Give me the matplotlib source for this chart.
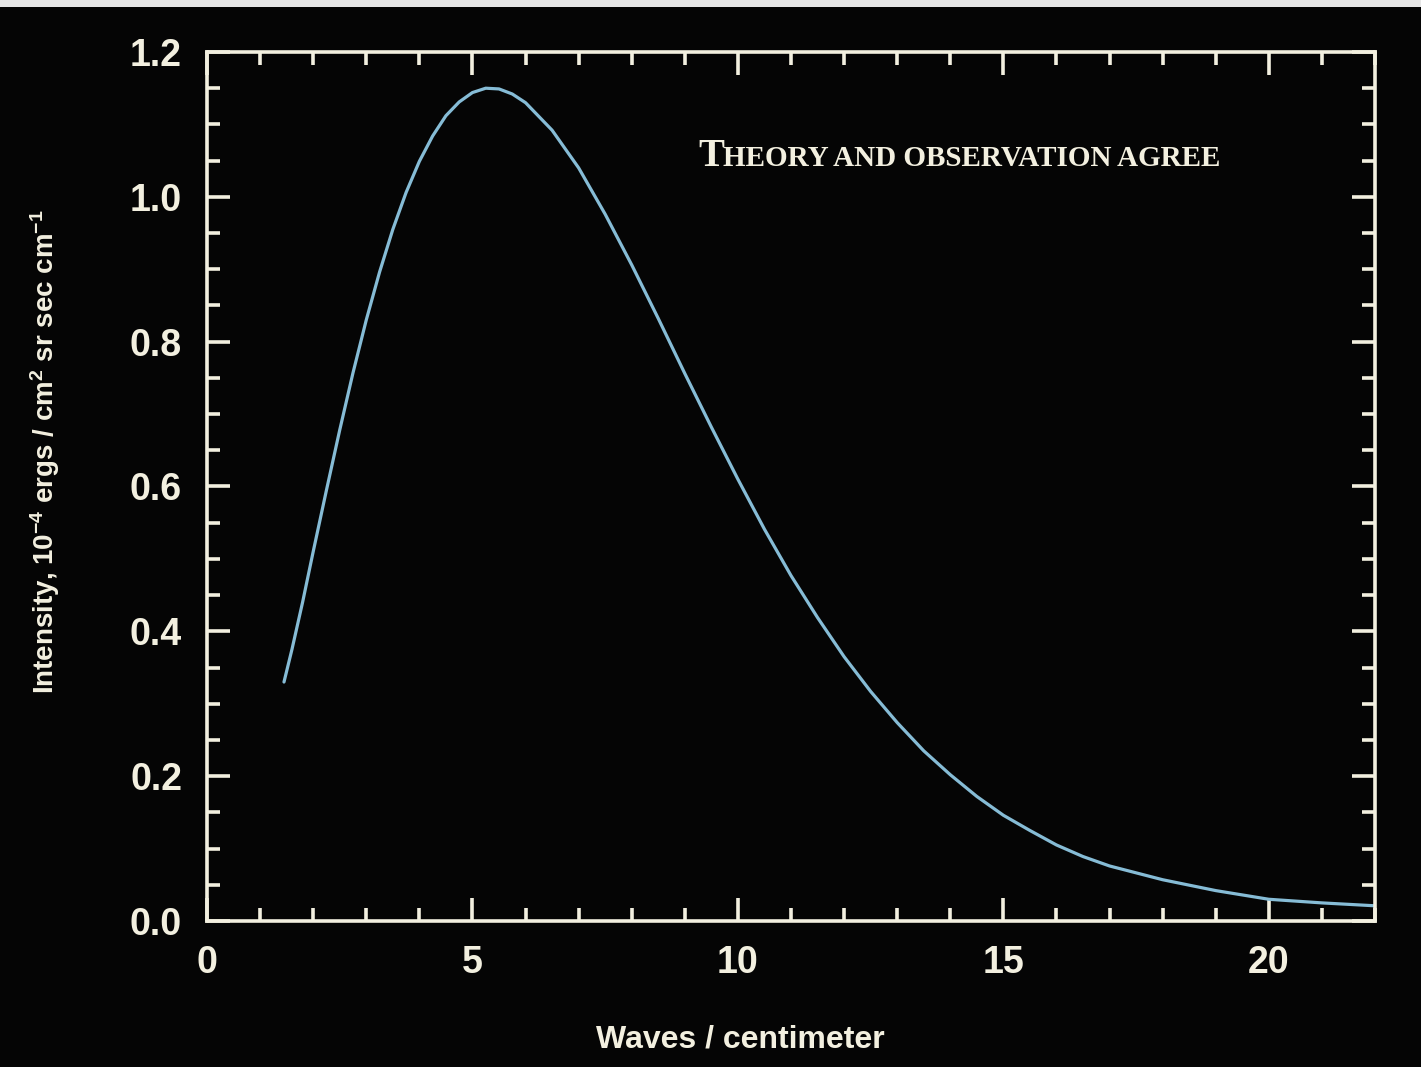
import matplotlib
matplotlib.use("Agg")
import matplotlib.pyplot as plt
from matplotlib.patches import Rectangle
from matplotlib.ticker import MultipleLocator

# ----------------------------
# Data
# ----------------------------
wavenumber = [1.45, 1.6, 1.8, 2.0, 2.25, 2.5, 2.75, 3.0, 3.25, 3.5, 3.75, 4.0,
              4.25, 4.5, 4.75, 5.0, 5.25, 5.5, 5.75, 6.0, 6.5, 7.0, 7.5, 8.0,
              8.5, 9.0, 9.5, 10.0, 10.5, 11.0, 11.5, 12.0, 12.5, 13.0, 13.5,
              14.0, 14.5, 15.0, 15.5, 16.0, 16.5, 17.0, 18.0, 19.0, 20.0,
              21.0, 22.0]
intensity = [0.33, 0.375, 0.44, 0.51, 0.595, 0.678, 0.757, 0.83, 0.896, 0.955,
             1.006, 1.049, 1.084, 1.112, 1.131, 1.144, 1.150, 1.149, 1.142,
             1.130, 1.092, 1.040, 0.976, 0.906, 0.832, 0.756, 0.682, 0.610,
             0.541, 0.477, 0.419, 0.365, 0.317, 0.274, 0.235, 0.202, 0.172,
             0.146, 0.125, 0.105, 0.089, 0.076, 0.057, 0.042, 0.030, 0.025,
             0.021]

# ----------------------------
# Styling
# ----------------------------
BG = "#050505"
FG = "#f3f0e0"
CURVE = "#86bcd6"

plt.rcParams.update(
    {
        "font.family": ["Liberation Sans", "DejaVu Sans"],
        "font.weight": "bold",
        "mathtext.fontset": "custom",
        "mathtext.rm": "Liberation Sans:bold",
        "mathtext.bf": "Liberation Sans:bold",
        "mathtext.it": "Liberation Sans:bold",
    }
)

fig = plt.figure(figsize=(14.21, 10.67), dpi=100, facecolor=BG)
ax = fig.add_axes([207 / 1421, 1 - 921 / 1067, (1375 - 207) / 1421, (921 - 52) / 1067])
ax.set_facecolor(BG)

# thin strip of the page above the picture
fig.patches.append(Rectangle((0, 1 - 7 / 1067), 1, 7 / 1067, transform=fig.transFigure,
                             facecolor="#e6e6e6", edgecolor="none"))

ax.plot(wavenumber, intensity, color=CURVE, linewidth=2.3, solid_capstyle="round",
        solid_joinstyle="round")

ax.set_xlim(0, 22)
ax.set_ylim(0, 1.2)
ax.xaxis.set_major_locator(MultipleLocator(5))
ax.xaxis.set_minor_locator(MultipleLocator(1))
ax.yaxis.set_major_locator(MultipleLocator(0.2))
ax.yaxis.set_minor_locator(MultipleLocator(0.05))
ax.yaxis.set_major_formatter(matplotlib.ticker.FormatStrFormatter("%.1f"))

for s in ax.spines.values():
    s.set_color(FG)
    s.set_linewidth(2.6)

ax.tick_params(which="both", direction="in", top=True, right=True, colors=FG,
               width=2.6, labelsize=27)
ax.tick_params(which="major", length=16.5)
ax.tick_params(which="minor", length=9.5)
ax.tick_params(axis="x", which="major", pad=17)
ax.tick_params(axis="y", which="major", pad=18)

fig.text(740 / 1421, 1 - 1040 / 1067, "Waves / centimeter", color=FG, fontsize=23,
         fontweight="bold", ha="center", va="center")
fig.text(45 / 1421, 1 - 452 / 1067,
         r"Intensity, 10$^{-4}$ ergs / cm$^{2}$ sr sec cm$^{-1}$",
         color=FG, fontsize=20, fontweight="bold", rotation=90,
         ha="center", va="center")

# small-caps annotation
fig.text(698 / 1421, 1 - 166 / 1067, "T", color=FG, fontsize=28,
         family="Liberation Serif", fontweight="bold", ha="left", va="baseline")
fig.text(723 / 1421, 1 - 166 / 1067, "HEORY AND OBSERVATION AGREE", color=FG,
         fontsize=21, family="Liberation Serif", fontweight="bold",
         ha="left", va="baseline")

fig.savefig("out.png", dpi=100, facecolor=BG)
